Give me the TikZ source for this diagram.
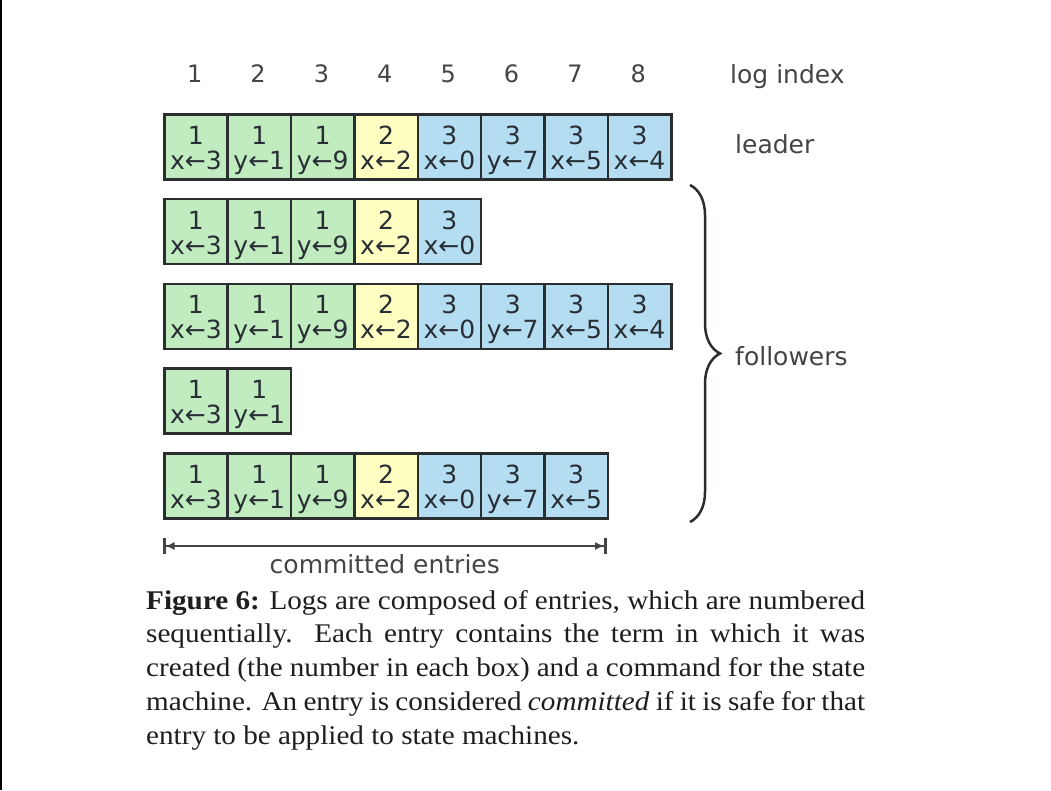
\documentclass[tikz,border=0pt]{standalone}
\usepackage{fontspec}
\setmainfont{Liberation Serif}
\newfontfamily\dvfont{DejaVu Sans}
\newfontfamily\capfont[FakeStretch=1.08]{Liberation Serif}
\usetikzlibrary{arrows.meta,decorations.pathreplacing}
\definecolor{cgreen}{RGB}{192,236,192}
\definecolor{cyellow}{RGB}{255,255,194}
\definecolor{cblue}{RGB}{180,221,242}
\definecolor{cborder}{RGB}{42,46,48}
\definecolor{ctext}{RGB}{40,46,52}
\definecolor{clabel}{RGB}{68,68,68}
\definecolor{ccap}{RGB}{30,30,30}
\newcommand\enttext[2]{\raisebox{0pt}[30pt][35pt]{\vtop{\hbox to 0pt{\hss#1\hss}\hbox to 0pt{\hss#2\hss}}}}
\tikzset{
  entrybox/.style={draw=cborder, line width=2.5pt, minimum width=63.375pt,
    minimum height=65pt, inner sep=0pt, anchor=north west, text=ctext,
    font=\dvfont\fontsize{25}{25}\selectfont},
  term1/.style={fill=cgreen},
  term2/.style={fill=cyellow},
  term3/.style={fill=cblue},
  lbl/.style={inner sep=0pt, text=clabel, font=\dvfont\fontsize{25}{30}\selectfont},
  idxlbl/.style={inner sep=0pt, anchor=base, text=clabel, font=\dvfont\fontsize{24}{30}\selectfont},
  brc/.style={draw=cborder, line width=2.5pt, decorate, decoration={brace, amplitude=30pt}},
  commit/.style={draw=clabel, line width=1.5pt,
    {Bar[width=16pt,line width=2.5pt]Latex[length=9pt,width=8pt]}-{Latex[length=9pt,width=8pt]Bar[width=16pt,line width=2.5pt]}},
}
\begin{document}
\begin{tikzpicture}[x=1pt,y=-1pt]
\fill[white] (0,0) rectangle (1051,790);
\useasboundingbox (0,0) rectangle (1051,790);
\fill[black] (0,0) rectangle (2,790);
% log index
\foreach \i in {1,...,8}
  \node[idxlbl] (idx\i) at ({163+(\i-0.5)*63.375},82) {\i};
\node[lbl, anchor=base west] (lidx) at (730,83) {log index};
% rows
\foreach \r/\top/\n in {1/113/8, 2/197.75/5, 3/282.5/8, 4/367.25/2, 5/452/7} {
  \foreach [count=\i] \t/\c in {1/x←3, 1/y←1, 1/y←9, 2/x←2, 3/x←0, 3/y←7, 3/x←5, 3/x←4} {
    \ifnum\i>\n\relax\else
      \node[entrybox, term\t] (e\r-\i) at ({163+(\i-1)*63.375},\top) {\enttext{\t}{\c}};
    \fi
  }
}
\node[lbl, anchor=base west] (lleader) at (735,153) {leader};
% brace
\coordinate (bt) at (690,185);
\coordinate (bb) at (690,522);
\draw[brc] (bt) -- (bb);
\node[lbl, anchor=base west] (lfollow) at (735,365) {followers};
% committed
\coordinate (cs) at (163,546);
\coordinate (ce) at (606.6,546);
\draw[commit] (cs) -- (ce);
\node[lbl, anchor=base] (lcommit) at (384.8,573) {committed entries};
% caption
\node[anchor=base west, inner sep=0pt, text=ccap] (cap) at (146,609) {\parbox[t]{719pt}{\capfont\fontsize{27}{33.75}\selectfont
{\bfseries Figure 6:} Logs are composed of entries, which are numbered\linebreak
sequentially. Each entry contains the term in which it was\linebreak
created (the number in each box) and a command for the state\linebreak
machine. An entry is considered \textit{committed} if it is safe for that\linebreak
entry to be applied to state machines.}};
\end{tikzpicture}
\end{document}
